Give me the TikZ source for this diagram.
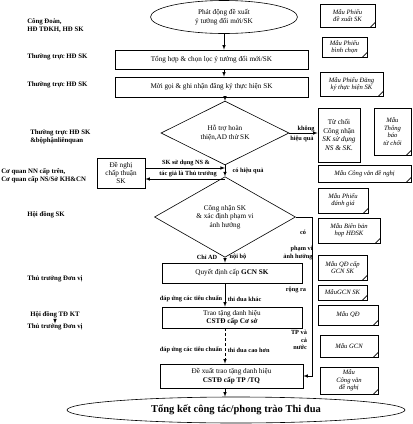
\documentclass[tikz,border=0pt]{standalone}
\usepackage{fontspec}
\setmainfont{Liberation Serif}
\usetikzlibrary{shapes.geometric, positioning}

\begin{document}
\begin{tikzpicture}[x=1pt, y=-1pt, semithick, node distance=4pt,
  every node/.style={font=\fontsize{7.2}{8.4}\selectfont},
  box/.style={draw, rectangle, align=center, inner sep=1pt},
  choice/.style={draw, diamond, align=center, inner sep=0pt},
  oval/.style={draw, ellipse, align=center, inner sep=0pt},
  doc/.style={draw, align=center, inner sep=1pt, font=\itshape\fontsize{6.6}{7.4}\selectfont,
    append after command={([xshift=-5pt]\tikzlastnode.south east) edge[draw] ([yshift=5pt]\tikzlastnode.south east)}},
  who/.style={font=\bfseries\fontsize{6.8}{8}\selectfont, align=left, anchor=west, inner sep=0pt},
  note/.style={font=\bfseries\fontsize{6.3}{7.2}\selectfont, align=center, inner sep=0.5pt}]
\useasboundingbox (0,0) rectangle (413,424);

\node (start) [oval, minimum width=147pt, minimum height=33pt] at (224,17) {Phát động đề xuất\\ý tưởng đổi mới/SK};
\node (pick) [box, minimum width=193pt, minimum height=19pt] at (211.5,59.5) {Tổng hợp \& chọn lọc ý tưởng đổi mới/SK};
\node (reg) [box, minimum width=193pt, minimum height=20pt] at (211.5,87) {Mời gọi \& ghi nhận đăng ký thực hiện SK};
\node (trial) [choice, minimum width=128pt, minimum height=60pt] at (225,133) {Hỗ trợ hoàn\\thiện,AD thử SK};
\node (reject) [box, minimum width=42pt, minimum height=54pt] at (339,135) {Từ chối\\Công nhận\\\textit{SK sử dụng}\\\textit{NS \& SK.}};
\node (ask) [box, minimum width=48pt, minimum height=30pt] at (121,173) {Đề nghị\\chấp thuận\\SK};
\node (accept) [choice, minimum width=141pt, minimum height=60pt] at (225,217) {Công nhận SK\\\& xác định phạm vi\\ảnh hưởng};
\node (gcn) [box, minimum width=140pt, minimum height=20pt] at (232,273) {Quyết định cấp \textbf{GCN SK}};
\node (base) [box, minimum width=140pt, minimum height=21pt] at (232,317.5) {Trao tặng danh hiệu\\\textbf{CSTĐ cấp Cơ sở}};
\node (city) [box, minimum width=143pt, minimum height=24pt] at (231.5,376) {Đề xuất trao tặng danh hiệu\\\textbf{CSTĐ cấp TP /TQ}};
\node (end) [oval, minimum width=338pt, minimum height=26pt, font=\bfseries\fontsize{10.5}{12}\selectfont] at (236,410) {Tổng kết công tác/phong trào Thi đua};

\node (union) [who] at (27,26) {Công Đoàn,\\HĐ TĐKH, HĐ SK};
\node (staff1) [who] at (27,57) {Thường trực HĐ SK};
\node (staff2) [who] at (27,85) {Thường trực HĐ SK};
\node (staff3) [who] at (30,137) {Thường trực HĐ SK\\\&bộphậnliênquan};
\node (agency) [who] at (1,176) {Cơ quan NN cấp trên,\\Cơ quan cấp NS/Sở KH\&CN};
\node (council) [who] at (27,215) {Hội đồng SK};
\node (head1) [who] at (27,279) {Thủ trưởng Đơn vị};
\node (tdkt) [who, anchor=center] at (55,315) {Hội đồng TĐ KT};
\node (head2) [who, anchor=north, below=5pt of tdkt] {Thủ trưởng Đơn vị};

\node (dA) [doc, minimum width=55pt, minimum height=23pt] at (347.5,15.5) {Mẫu Phiếu\\đề xuất SK};
\node (dB) [doc, minimum width=45pt, minimum height=20pt] at (344.5,47) {Mẫu Phiếu\\bình chọn};
\node (dC) [doc, minimum width=63pt, minimum height=24pt] at (351.5,84) {Mẫu Phiếu Đăng\\ký thực hiện SK};
\node (dD) [doc, minimum width=37pt, minimum height=47pt] at (392.5,131.5) {Mẫu\\Thông\\báo\\từ chối};
\node (dE) [doc, minimum width=93pt, minimum height=17pt] at (364.5,173.5) {Mẫu Công văn đề nghị};
\node (dF) [doc, minimum width=50pt, minimum height=25pt] at (343,200.5) {Mẫu Phiếu\\đánh giá};
\node (dG) [doc, minimum width=62pt, minimum height=25pt] at (349,230.5) {Mẫu Biên bản\\họp HĐSK};
\node (dH) [doc, minimum width=49pt, minimum height=25pt] at (342.5,267.5) {Mẫu QĐ cấp\\GCN SK};
\node (dI) [doc, minimum width=49pt, minimum height=15pt] at (342.5,292.5) {MẫuGCN SK};
\node (dJ) [doc, minimum width=60pt, minimum height=20pt] at (348,315) {Mẫu QĐ};
\node (dK) [doc, minimum width=58pt, minimum height=22pt] at (349,346) {Mẫu GCN};
\node (dL) [doc, minimum width=58pt, minimum height=27pt] at (349,380.5) {Mẫu\\Công văn\\đề nghị};

\node (nsA) [note] at (186,163) {SK sử dụng NS \&};
\node (nsB) [note] at (188,174) {tác giả là Thủ trưởng};
\node (good) [note] at (248,171) {có hiệu quả};
\node (bad1) [note] at (306,129) {không};
\node (bad2) [note] at (302,139) {hiệu quả};
\node (onlyAD) [note] at (207,257) {Chỉ AD};
\node (inner) [note] at (238,257) {nội bộ};
\node (yes) [note] at (303,232) {có};
\node (scope) [note, align=right] at (298,253) {phạm vi\\ảnh hưởng};
\node (wider) [note] at (296,290) {rộng ra};
\node (nation) [note, align=right] at (299,340) {TP và\\cả\\nước};
\node (critA) [note, anchor=east] at (223,299) {đáp ứng các tiêu chuẩn};
\node (critB) [note, anchor=west] at (227,299) {thi đua khác};
\node (critC) [note, anchor=east] at (223,350) {đáp ứng các tiêu chuẩn};
\node (critD) [note, anchor=west] at (227,350) {thi đua cao hơn};

\coordinate (askin) at ([yshift=5pt]ask.east);
\coordinate (askout) at ([yshift=-6pt]ask.east);
\coordinate (edgeR) at (312,217);

\path [-latex]
     (start.south) edge (start.south |- pick.north)
     (pick.south -| start.south) edge (reg.north -| start.south)
     (reg.south -| trial.north) edge (trial.north)
     (trial.east) edge (trial.east -| reject.west)
     (trial.south) edge (accept.north)
     (askin) edge (askin -| trial.south)
     (askout -| trial.south) edge (askout)
     (accept.south) edge (accept.south |- gcn.north)
     (gcn.south -| accept.south) edge (base.north -| accept.south)
     (base.south -| accept.south) edge[densely dashed] (city.north -| accept.south)
     (city.south -| accept.south) edge (accept.south |- end.north)
     (tdkt) edge (head2);
\draw [-latex] (accept.east) -- (edgeR) |- (city.east);
\end{tikzpicture}
\end{document}
